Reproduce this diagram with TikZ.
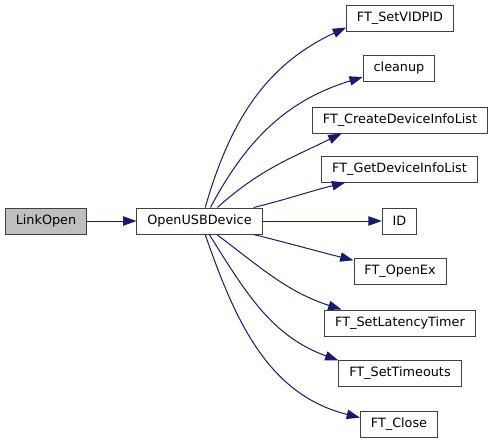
\documentclass[tikz,border=0pt]{standalone}
\usepackage{fontspec}
\setmainfont{DejaVu Sans}
\usetikzlibrary{arrows.meta}
\begin{document}
\begin{tikzpicture}[x=0.75pt, y=-0.75pt, font=\fontsize{9.6}{11}\selectfont,
    fn/.style={draw=black!75, line width=0.75pt, fill=white,
        minimum height=19.5pt, inner xsep=7.8pt, inner ysep=0pt},
    fnroot/.style={fn, fill=rootgray},
    call/.style={draw=edgeblue, line width=0.75pt,
        -{Triangle[length=10pt, width=7pt]}}]
    % --- Colores ---
    \definecolor{edgeblue}{HTML}{191970}
    \definecolor{rootgray}{HTML}{BFBFBF}

    \useasboundingbox (0,0) rectangle (493,443);

    % --- Funcion que llama y funcion llamada ---
    \node[fnroot] (linkopen) at (46,221) {LinkOpen};
    \node[fn] (ousb) at (199.5,221) {OpenUSBDevice};

    % --- Columna de funciones llamadas ---
    \node[fn] (vidpid)   at (400,18)    {FT\_SetVIDPID};
    \node[fn] (cleanup)  at (399,68)    {cleanup};
    \node[fn] (create)   at (400,120)   {FT\_CreateDeviceInfoList};
    \node[fn] (getdev)   at (399.5,169) {FT\_GetDeviceInfoList};
    \node[fn] (id)       at (399.5,221) {ID};
    \node[fn] (openex)   at (400,271)   {FT\_OpenEx};
    \node[fn] (latency)  at (400,323)   {FT\_SetLatencyTimer};
    \node[fn] (timeouts) at (400,373.5) {FT\_SetTimeouts};
    \node[fn] (close)    at (399,424.5) {FT\_Close};

    % --- Llamadas ---
    \draw[call] (linkopen) -- (ousb);
    \draw[call] (ousb.67)  to[out=74, in=205]  (vidpid.190);
    \draw[call] (ousb.51)  to[out=62, in=197]  (cleanup.194);
    \draw[call] (ousb.37)  to[out=42, in=206]  (create.193);
    \draw[call] (ousb.14)  to[out=14, in=194]  (getdev.194);
    \draw[call] (ousb) -- (id);
    \draw[call] (ousb.-14) to[out=-14, in=166] (openex.167);
    \draw[call] (ousb.-38) to[out=-37, in=162] (latency.167);
    \draw[call] (ousb.-54) to[out=-58, in=160] (timeouts.168);
    \draw[call] (ousb.-67) to[out=-71, in=166] (close.170);
\end{tikzpicture}
\end{document}
